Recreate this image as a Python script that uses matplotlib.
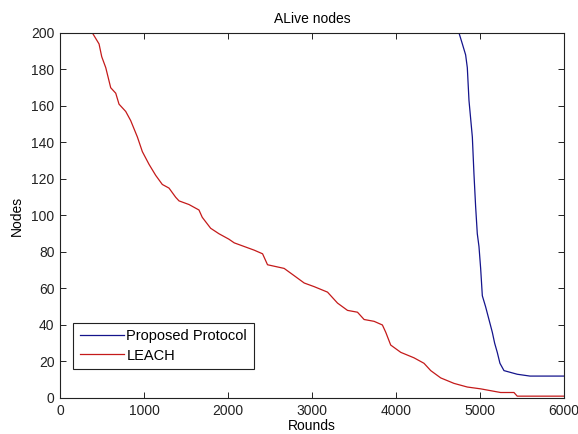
import matplotlib
matplotlib.use("Agg")
import matplotlib.pyplot as plt

plt.rcParams['font.family'] = ['Liberation Sans', 'DejaVu Sans']
plt.rcParams['font.size'] = 10

# Proposed Protocol (blue)
proposed_rounds = [4754, 4794, 4833, 4853, 4873, 4913, 4932, 4952, 4972, 4992,
                   5012, 5032, 5071, 5111, 5151, 5179, 5210, 5242, 5290, 5448,
                   5600, 6000]
proposed_alive = [200, 194, 188, 181, 163, 143, 123, 105, 90, 83,
                  71, 56, 50, 43, 36, 30, 25, 19, 15, 13,
                  12, 12]

# LEACH (red)
leach_rounds = [385, 464, 496, 544, 603, 663, 702, 782, 841, 921,
                980, 1060, 1139, 1218, 1298, 1377, 1417, 1536, 1655, 1694,
                1794, 1893, 2012, 2075, 2194, 2313, 2413, 2472, 2670, 2790,
                2909, 3028, 3187, 3306, 3425, 3544, 3623, 3742, 3841, 3881,
                3940, 4060, 4218, 4337, 4417, 4536, 4694, 4853, 5012, 5131,
                5250, 5409, 5448, 6000]
leach_alive = [200, 194, 187, 181, 170, 167, 161, 157, 152, 143,
               135, 128, 122, 117, 115, 110, 108, 106, 103, 99,
               93, 90, 87, 85, 83, 81, 79, 73, 71, 67,
               63, 61, 58, 52, 48, 47, 43, 42, 40, 36,
               29, 25, 22, 19, 15, 11, 8, 6, 5, 4,
               3, 3, 1, 1]

fig = plt.figure(figsize=(5.78, 4.34), dpi=100)
ax = fig.add_axes([0.104, 0.083, 0.871, 0.841])

ax.plot(proposed_rounds, proposed_alive, color='#14148c', lw=0.9, label='Proposed Protocol')
ax.plot(leach_rounds, leach_alive, color='#c41a1a', lw=0.9, label='LEACH')

ax.set_xlim(0, 6000)
ax.set_ylim(0, 200)
ax.set_xticks(range(0, 6001, 1000))
ax.set_yticks(range(0, 201, 20))
ax.tick_params(direction='in', top=True, right=True, length=4, width=0.7,
               colors='#222222', labelsize=10, pad=4)
for s in ax.spines.values():
    s.set_linewidth(0.8)
    s.set_color('#222222')

ax.set_title('ALive nodes', fontsize=10, pad=7)
ax.set_xlabel('Rounds', labelpad=1)
ax.set_ylabel('Nodes', labelpad=5)

leg = ax.legend(loc='lower left', bbox_to_anchor=(0.026, 0.079), borderaxespad=0,
                fancybox=False, framealpha=1, edgecolor='#222222',
                handlelength=3.0, handletextpad=0.2, labelspacing=0.35,
                borderpad=0.45, fontsize=10.5)
leg.get_frame().set_linewidth(0.8)

fig.savefig('out.png', dpi=100)
